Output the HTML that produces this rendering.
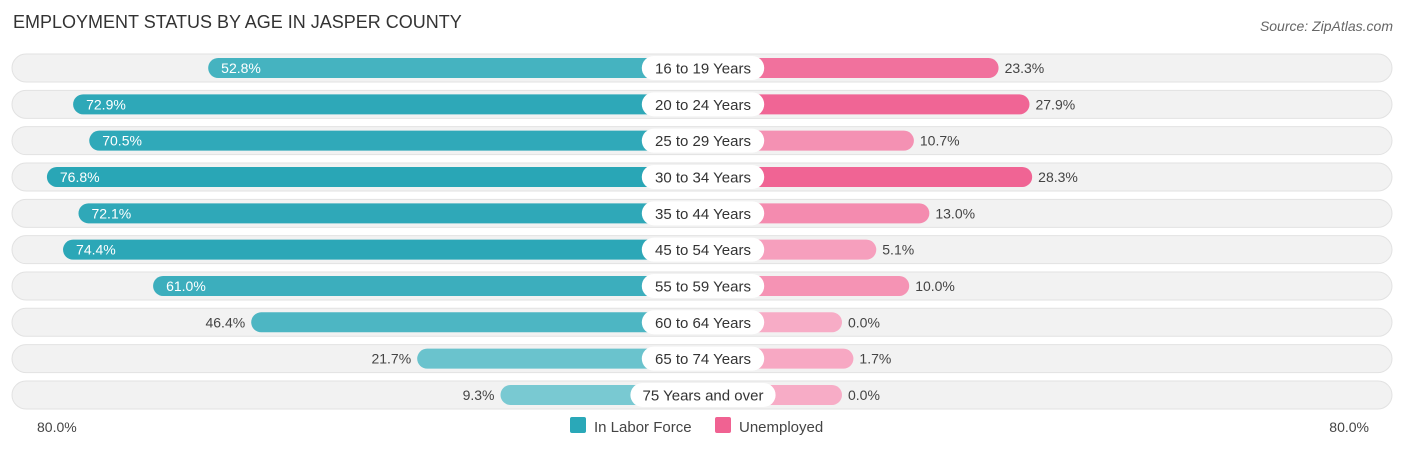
<!DOCTYPE html>
<html><head><meta charset="utf-8"><style>
body{margin:0;background:#fff;font-family:"Liberation Sans",sans-serif;}
svg text{font-family:"Liberation Sans",sans-serif;}
</style></head><body>
<svg id="c" width="1406" height="451" xmlns="http://www.w3.org/2000/svg">
<text x="13" y="28" font-size="18" fill="#333">EMPLOYMENT STATUS BY AGE IN JASPER COUNTY</text>
<text x="1393" y="31" font-size="14" fill="#666" font-style="italic" text-anchor="end">Source: ZipAtlas.com</text>
<text x="37" y="432" font-size="14" fill="#444">80.0%</text>
<text x="1369" y="432" font-size="14" fill="#444" text-anchor="end">80.0%</text>
<rect x="570" y="417" width="16" height="16" rx="2" fill="#2aa8b8"/>
<text x="594" y="432" font-size="15" fill="#444">In Labor Force</text>
<rect x="715" y="417" width="16" height="16" rx="2" fill="#f06292"/>
<text x="739" y="432" font-size="15" fill="#444">Unemployed</text>
<g id="rows"></g>
</svg>
<script>
const categories=["16 to 19 Years","20 to 24 Years","25 to 29 Years","30 to 34 Years","35 to 44 Years","45 to 54 Years","55 to 59 Years","60 to 64 Years","65 to 74 Years","75 Years and over"];
const laborForce=[52.8,72.9,70.5,76.8,72.1,74.4,61.0,46.4,21.7,9.3];
const unemployed=[23.3,27.9,10.7,28.3,13.0,5.1,10.0,0.0,1.7,0.0];
const NS="http://www.w3.org/2000/svg";
const g=document.getElementById('rows');
const scale=6.72, leftZero=563, rightZero=842, y0=68, step=36.33;
const xL=v=>leftZero-v*scale, xR=v=>rightZero+v*scale;
function mk(tag,attrs){const e=document.createElementNS(NS,tag);for(const k in attrs)e.setAttribute(k,attrs[k]);return e;}
function mix(a,b,t){return 'rgb('+a.map((c,i)=>Math.round(c+(b[i]-c)*t)).join(',')+')';}
const maxL=Math.max(...laborForce), maxU=Math.max(...unemployed);
categories.forEach((cat,i)=>{
  const cy=y0+i*step;
  const bg=mk('rect',{x:12,y:cy-14,width:1380,height:28,rx:14,fill:'#f2f2f2',stroke:'#e2e2e2'});
  
  
  g.appendChild(bg);
  const lv=laborForce[i], lx=xL(lv);
  const lb=mk('rect',{x:lx,y:cy-10,width:703-lx,height:20,rx:10,fill:mix([132,206,214],[41,166,182],lv/maxL)});
  
  
  g.appendChild(lb);
  const uv=unemployed[i], ux=xR(uv);
  const ub=mk('rect',{x:703,y:cy-10,width:ux-703,height:20,rx:10,fill:mix([247,172,198],[240,100,148],uv/maxU)});
  
  
  g.appendChild(ub);
  const inside=lv>50;
  const lt=mk('text',{x:inside?lx+13:lx-6,y:cy+5,'font-size':14,fill:inside?'#fff':'#444','text-anchor':inside?'start':'end'});
  lt.textContent=lv.toFixed(1)+'%';
  
  
  g.appendChild(lt);
  const ut=mk('text',{x:ux+6,y:cy+5,'font-size':14,fill:'#444'});
  ut.textContent=uv.toFixed(1)+'%';
  
  
  g.appendChild(ut);
  const w=cat.length*7.6+16;
  const pill=mk('rect',{x:703-w/2,y:cy-12,width:w,height:24,rx:12,fill:'#fff'});
  
  
  g.appendChild(pill);
  const ct=mk('text',{x:703,y:cy+5.5,'font-size':15,fill:'#333','text-anchor':'middle'});
  ct.textContent=cat;
  
  
  g.appendChild(ct);
});
</script>
</body></html>
